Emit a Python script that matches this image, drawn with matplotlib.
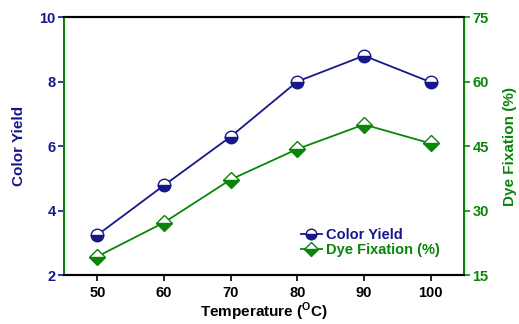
import numpy as np
import matplotlib
matplotlib.use('Agg')
import matplotlib.pyplot as plt

plt.rcParams['font.family'] = ['Liberation Sans', 'DejaVu Sans']
plt.rcParams['font.weight'] = 'bold'
plt.rcParams['mathtext.fontset'] = 'custom'
plt.rcParams['mathtext.rm'] = 'Liberation Sans:bold'
plt.rcParams['mathtext.bf'] = 'Liberation Sans:bold'

# data
temperature = [50, 60, 70, 80, 90, 100]
color_yield = [3.24, 4.78, 6.29, 8.0, 8.8, 7.98]
dye_fixation = [19.3, 27.2, 37.2, 44.3, 50.0, 45.6]

navy = '#17178a'
green = '#0a850a'
fs = 10.5

fig = plt.figure(figsize=(5.19, 3.24), dpi=100)
ax1 = fig.add_axes([0.1233, 0.1512, 0.7707, 0.7963])
ax2 = ax1.twinx()

l1, = ax1.plot(temperature, color_yield, color=navy, lw=1.3, marker='o',
               ms=9, fillstyle='bottom', markerfacecoloralt='white',
               markeredgecolor=navy, markeredgewidth=1.0, label='Color Yield')
l2, = ax2.plot(temperature, dye_fixation, color=green, lw=1.3, marker='D',
               ms=8, fillstyle='bottom', markerfacecoloralt='white',
               markeredgecolor=green, markeredgewidth=1.0, label='Dye Fixation (%)')

ax1.set_xlim(45, 105)
ax1.set_ylim(2, 10)
ax2.set_ylim(15, 75)
ax1.set_xticks([50, 60, 70, 80, 90, 100])
ax1.set_yticks([2, 4, 6, 8, 10])
ax2.set_yticks([15, 30, 45, 60, 75])

for sp in ['top', 'bottom']:
    ax1.spines[sp].set_linewidth(1.5)
    ax2.spines[sp].set_linewidth(1.5)
ax2.spines['left'].set_color(green)
ax2.spines['left'].set_linewidth(1.5)
ax2.spines['right'].set_color(green)
ax2.spines['right'].set_linewidth(1.5)
ax1.spines['left'].set_visible(False)

ax1.tick_params(axis='x', direction='out', length=4, width=1.2, labelsize=fs, pad=4)
ax1.tick_params(axis='y', direction='out', length=4, width=1.2, colors=navy, labelsize=fs, pad=2)
ax2.tick_params(axis='y', direction='out', length=4, width=1.2, colors=green, labelsize=fs, pad=2)
for lab in ax1.get_xticklabels() + ax1.get_yticklabels() + ax2.get_yticklabels():
    lab.set_fontweight('bold')

ax1.set_xlabel(r'Temperature ($^{\mathbf{O}}$C)', fontsize=11, fontweight='bold')
ax1.xaxis.set_label_coords(0.5, -0.1)
ax1.set_ylabel('Color Yield', fontsize=11, fontweight='bold', color=navy, labelpad=10)
ax2.set_ylabel('Dye Fixation (%)', fontsize=11, fontweight='bold', color=green, labelpad=10)

leg = ax2.legend(handles=[l1, l2], loc='lower right', bbox_to_anchor=(0.965, 0.03),
                 frameon=False, fontsize=fs, handlelength=1.4, handletextpad=0.3,
                 labelspacing=0.1, borderpad=0.2, markerscale=0.85)
for txt, c in zip(leg.get_texts(), [navy, green]):
    txt.set_color(c)
    txt.set_fontweight('bold')

fig.savefig('out.png', dpi=100)
